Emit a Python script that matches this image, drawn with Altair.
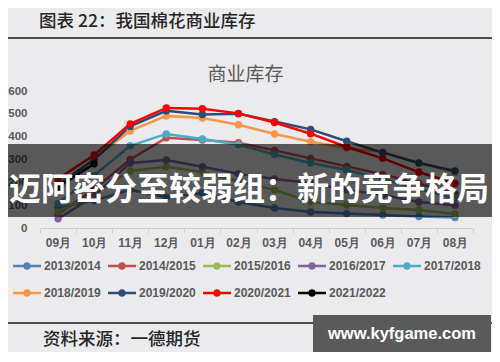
import altair as alt
import pandas as pd

months = ["09月", "10月", "11月", "12月", "01月", "02月", "03月", "04月", "05月", "06月", "07月", "08月"]
seasons = ["2013/2014", "2014/2015", "2015/2016", "2016/2017", "2017/2018",
           "2018/2019", "2019/2020", "2020/2021", "2021/2022"]
colors = ["#4F81BD", "#C0504D", "#9BBB59", "#8064A2", "#4BACC6",
          "#F79646", "#2C4D75", "#FF0000", "#000000"]

v2013 = [90, 120, 167, 135, 153, 114, 88, 70, 63, 57, 50, 46]
v2014 = [60, 170, 300, 395, 385, 373, 340, 305, 270, 235, 195, 150]
v2015 = [70, 150, 250, 268, 245, 205, 167, 114, 101, 88, 79, 61]
v2016 = [40, 140, 285, 298, 268, 237, 215, 197, 167, 145, 114, 100]
v2017 = [108, 230, 360, 412, 390, 365, 322, 285, 254, 215, 170, 130]
v2018 = [160, 305, 425, 491, 482, 452, 412, 378, 350, 333, 285, 245]
v2019 = [190, 300, 445, 513, 497, 500, 466, 432, 380, 330, 285, 250]
v2020 = [215, 320, 456, 526, 522, 502, 462, 413, 355, 305, 245, 195]
v2021 = [180, 281, None, None, None, None, None, None, None, None, None, None]
series_values = [v2013, v2014, v2015, v2016, v2017, v2018, v2019, v2020, v2021]

y_ticks = [0, 100, 200, 300, 400, 500, 600]

page_title = "图表 22：我国棉花商业库存"
chart_title = "商业库存"
source_text = "资料来源：一德期货"
banner_text = "迈阿密分至较弱组：新的竞争格局"
watermark_text = "www.kyfgame.com"

rows = []
for s, vals in zip(seasons, series_values):
    for m, v in zip(months, vals):
        if v is not None:
            rows.append({"season": s, "month": m, "value": v})
df = pd.DataFrame(rows)

W, H = 433, 137
GREY = "#595959"
CJK = "Noto Sans CJK SC"

x_enc = alt.X(
    "month:N", sort=months,
    scale=alt.Scale(type="band", paddingInner=0, paddingOuter=0),
    bandPosition=0.5,
    axis=alt.Axis(title=None, labelAngle=0, tickBand="extent",
                  domainColor="#d0d0d0", tickColor="#d0d0d0", tickSize=5,
                  labelPadding=4, labelFont="Liberation Sans", labelFontSize=12,
                  labelFontWeight="bold", labelColor=GREY, grid=False),
)
y_enc = alt.Y(
    "value:Q", scale=alt.Scale(domain=[0, 600], nice=False),
    axis=alt.Axis(title=None, values=y_ticks, domain=False, ticks=False, grid=False,
                  labelPadding=13, labelFont="Liberation Sans", labelFontSize=11.5,
                  labelFontWeight="bold", labelColor=GREY),
)
cscale = alt.Scale(domain=seasons, range=colors)

legend_path = ("M-1,-0.09L1,-0.09L1,0.09L-1,0.09Z "
               "M0.27,0A0.27,0.27,0,1,1,-0.27,0A0.27,0.27,0,1,1,0.27,0Z")

base = alt.Chart(df)
lines = base.mark_line(strokeWidth=2.5).encode(
    x=x_enc, y=y_enc,
    color=alt.Color("season:N", scale=cscale, legend=None),
)
points = base.mark_point(filled=True, size=55, opacity=1).encode(
    x=x_enc, y=y_enc,
    color=alt.Color("season:N", scale=cscale, legend=alt.Legend(
        title=None, orient="none", legendX=-27, legendY=161, columns=5,
        direction="horizontal",
        symbolType=legend_path, symbolSize=784, symbolStrokeWidth=0,
        symbolOpacity=1, labelFont="Liberation Sans", labelFontSize=12,
        labelFontWeight="bold", labelColor=GREY, labelOffset=3,
        columnPadding=7, rowPadding=7, padding=0)),
)

one = pd.DataFrame({"k": [0]})

def text_layer(txt, x, y, size, color, weight="normal", font=CJK, align="left",
               baseline="middle"):
    return alt.Chart(pd.DataFrame({"t": [txt]})).mark_text(
        font=font, fontSize=size, fontWeight=weight, color=color,
        align=align, baseline=baseline,
    ).encode(text="t:N", x=alt.value(x), y=alt.value(y))

top_rule = alt.Chart(one).mark_rule(color="#1a1a1a", strokeWidth=1.5).encode(
    x=alt.value(-40), x2=alt.value(460), y=alt.value(-53))
bottom_rule = alt.Chart(one).mark_rule(color="#1a1a1a", strokeWidth=1.5).encode(
    x=alt.value(-40), x2=alt.value(460), y=alt.value(232))

band = alt.Chart(one).mark_rect(color="#000000", opacity=0.62).encode(
    x=alt.value(-40), x2=alt.value(460), y=alt.value(53), y2=alt.value(126))
wm_box = alt.Chart(one).mark_rect(color="#5a5a5a", opacity=1).encode(
    x=alt.value(273), x2=alt.value(451), y=alt.value(224), y2=alt.value(262))

chart = alt.layer(
    top_rule,
    text_layer(page_title, -1, -69, 17.5, "#262626", weight=500),
    text_layer(chart_title, 205.5, -16, 19, GREY, align="center"),
    lines,
    points,
    band,
    text_layer(banner_text, 209, 109, 32, "#ffffff", weight="bold",
               align="center", baseline="alphabetic"),
    bottom_rule,
    text_layer(source_text, 3, 249, 17.5, "#262626", weight=500),
    wm_box,
    text_layer(watermark_text, 362, 243, 16.5, "#ffffff", weight="bold",
               font="Liberation Sans", align="center"),
).resolve_legend(color="independent").properties(
    width=W, height=H,
    autosize=alt.AutoSizeParams(type="none"),
    padding={"left": 32, "top": 83, "right": 19, "bottom": 124},
    background="#ebebed",
).configure_view(stroke=None)

chart.save("out.html", embed_options={"renderer": "svg", "actions": False})
